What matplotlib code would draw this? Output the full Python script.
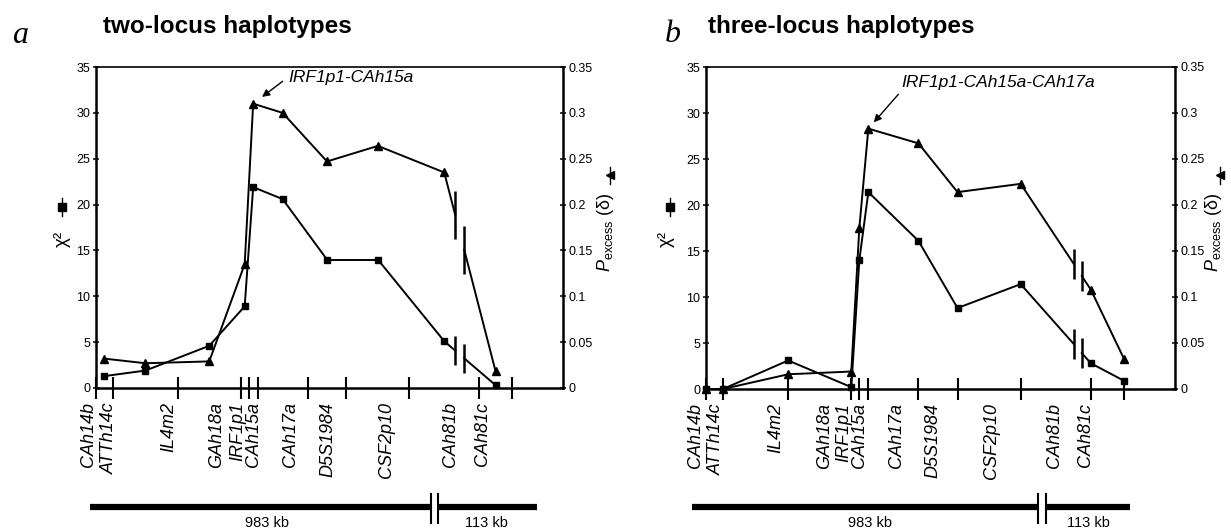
import matplotlib.pyplot as plt
import matplotlib.transforms as mtransforms
from matplotlib.lines import Line2D
import numpy as np

plt.rcParams['font.family'] = ['Liberation Sans', 'DejaVu Sans']
plt.rcParams['mathtext.fontset'] = 'custom'
plt.rcParams['mathtext.rm'] = 'Liberation Sans'
plt.rcParams['mathtext.it'] = 'Liberation Sans:italic'

W, H = 1231, 529

# loci along the map (positions in arbitrary map units)
loci = ['CAh14b', 'ATTh14c', 'IL4m2', 'GAh18a', 'IRF1p1', 'CAh15a',
        'CAh17a', 'D5S1984', 'CSF2p10', 'CAh81b', 'CAh81c']
locus_pos = [0, 17, 82, 145, 153, 162, 212, 251, 314, 384, 417]

# a: two-locus haplotypes, plotted between adjacent loci
chi2_two = [1.3, 1.9, 4.6, 8.9, 21.9, 20.6, 14.0, 14.0, 5.1, 0.3]
pexc_two = [0.032, 0.027, 0.029, 0.135, 0.310, 0.300, 0.247, 0.264, 0.235, 0.018]

# b: three-locus haplotypes, plotted at the loci
chi2_three = [0.0, 0.0, 3.1, 0.2, 14.0, 21.4, 16.1, 8.8, 11.4, 2.8, 0.9]
pexc_three = [0.0, 0.0, 0.016, 0.019, 0.175, 0.283, 0.267, 0.214, 0.223, 0.108, 0.033]

LW = 1.4
NARROW = ['Liberation Sans Narrow', 'Liberation Sans', 'DejaVu Sans']


def fx(px):
    return px / W


def fy(py):
    return 1 - py / H


def draw_series(ax, xs, ys, marker, ms, brk, bar_half):
    xs = np.asarray(xs, float)
    ys = np.asarray(ys, float)
    for i in range(len(xs) - 1):
        x0, x1, y0, y1 = xs[i], xs[i + 1], ys[i], ys[i + 1]
        if x0 < brk[0] and x1 > brk[1]:
            ya = np.interp(brk[0], [x0, x1], [y0, y1])
            yb = np.interp(brk[1], [x0, x1], [y0, y1])
            ax.plot([x0, brk[0]], [y0, ya], color='black', lw=LW)
            ax.plot([brk[1], x1], [yb, y1], color='black', lw=LW)
            for bx, by in ((brk[0], ya), (brk[1], yb)):
                ax.plot([bx, bx], [by - bar_half, by + bar_half], color='black',
                        lw=1.8, solid_capstyle='butt')
        else:
            ax.plot([x0, x1], [y0, y1], color='black', lw=LW)
    ax.plot(xs, ys, ls='none', marker=marker, ms=ms, color='black', clip_on=False)


def panel(rect, chi2, pexc, xs, brk, bar_chi, bar_p, label_x, peak_i, note,
          tail_off, text_off, shrink):
    ax = fig.add_axes(rect)
    ax.set_xlim(0, 468)
    ax.set_ylim(0, 35)
    ax.set_xticks(locus_pos)
    ax.tick_params(axis='x', direction='inout', length=16, width=1.5, labelbottom=False)
    ax.set_yticks(range(0, 36, 5))
    ax.tick_params(axis='y', direction='inout', length=4.5, width=1.1, labelsize=9, pad=2)
    for lab in ax.get_yticklabels():
        lab.set_family(NARROW)
    ax.spines['right'].set_visible(False)
    ax.spines['top'].set_linewidth(1.2)
    ax.spines['left'].set_linewidth(1.8)
    ax.spines['bottom'].set_linewidth(1.8)

    ax2 = ax.twinx()
    ax2.set_ylim(0, 0.35)
    pt = np.round(np.arange(0, 0.351, 0.05), 2)
    ax2.set_yticks(pt)
    ax2.set_yticklabels([f'{v:g}' for v in pt])
    ax2.tick_params(axis='y', direction='inout', length=4.5, width=1.1, labelsize=9, pad=2)
    for lab in ax2.get_yticklabels():
        lab.set_family(NARROW)
    for s in ('left', 'top', 'bottom'):
        ax2.spines[s].set_visible(False)
    ax2.spines['right'].set_linewidth(1.8)

    draw_series(ax, xs, chi2, 's', 5, brk, bar_chi)
    draw_series(ax2, xs, pexc, '^', 5.5, brk, bar_p)

    # locus names under the axis
    trans = mtransforms.offset_copy(ax.get_xaxis_transform(), fig=fig, y=-14, units='dots')
    for name, lx in zip(loci, label_x):
        ax.text(lx, 0, name, transform=trans, rotation=90, ha='center', va='top',
                fontsize=13, style='italic')

    px, py = xs[peak_i], pexc[peak_i]
    ax2.annotate('', xy=(px, py), xytext=tail_off, textcoords='offset points',
                 arrowprops=dict(arrowstyle='-|>', color='black', lw=1,
                                 shrinkA=0, shrinkB=shrink, mutation_scale=11))
    ax2.annotate(note, xy=(px, py), xytext=text_off, textcoords='offset points',
                 ha='left', va='baseline', fontsize=12.5, style='italic')
    return ax


fig = plt.figure(figsize=(W / 100, H / 100), dpi=100)

mid_two = [(a + b) / 2 for a, b in zip(locus_pos[:-1], locus_pos[1:])]
label_x_a = [-8, 13, 73, 121, 142, 158, 195, 232, 291, 355, 387]
label_x_b = [-10, 10, 70, 118, 137, 153, 190, 226, 285, 348, 379]

panel([fx(96), fy(388), (563 - 96) / W, (388 - 67) / H],
      chi2_two, pexc_two, mid_two, (360, 369), 1.6, 0.026, label_x_a,
      int(np.argmax(pexc_two)), 'IRF1p1-CAh15a', (21.2, 16.1), (25.6, 15.3), 8)
panel([fx(706), fy(389), (1175 - 706) / W, (389 - 67) / H],
      chi2_three, pexc_three, locus_pos, (367, 375), 1.6, 0.016, label_x_b,
      int(np.argmax(pexc_three)), 'IRF1p1-CAh15a-CAh17a', (21.6, 24.7), (23.8, 29.7), 6)

# titles and panel letters
fig.text(fx(103), fy(33), 'two-locus haplotypes', fontsize=17.5, fontweight='bold',
         ha='left', va='baseline')
fig.text(fx(708), fy(33), 'three-locus haplotypes', fontsize=17.5, fontweight='bold',
         ha='left', va='baseline')
fig.text(fx(12), fy(43), 'a', family=['Liberation Serif', 'DejaVu Serif'], style='italic',
         fontsize=23, va='baseline')
fig.text(fx(665), fy(42), 'b', family=['Liberation Serif', 'DejaVu Serif'], style='italic',
         fontsize=23, va='baseline')


# axis titles with their series symbols
def ylabel_pair(xc, xm, xp, xpm):
    fig.text(fx(xc), fy(247), 'χ²', rotation=90, ha='center', va='bottom', fontsize=13.5)
    fig.add_artist(Line2D([fx(xm)] * 2, [fy(198), fy(216)], transform=fig.transFigure,
                          color='black', lw=1))
    fig.add_artist(Line2D([fx(xm)], [fy(207)], transform=fig.transFigure,
                          marker='s', ms=5.5, color='black', ls='none'))
    fig.text(fx(xp), fy(272), r'$P_{\mathrm{excess}}$ (δ)', rotation=90, ha='center',
             va='bottom', fontsize=13)
    fig.add_artist(Line2D([fx(xpm)] * 2, [fy(167), fy(184)], transform=fig.transFigure,
                          color='black', lw=1))
    fig.add_artist(Line2D([fx(xpm)], [fy(175)], transform=fig.transFigure,
                          marker='<', ms=6, color='black', ls='none'))


ylabel_pair(62, 62, 605, 610)
ylabel_pair(666, 670, 1214, 1220)


# physical map scale bars
def scale_bar(x0, xb0, xb1, x1, t1x, t2x):
    for a, b in ((x0, xb0), (xb1, x1)):
        fig.add_artist(Line2D([fx(a), fx(b)], [fy(507)] * 2, transform=fig.transFigure,
                              color='black', lw=4.5, solid_capstyle='butt'))
    for bx in (xb0, xb1):
        fig.add_artist(Line2D([fx(bx)] * 2, [fy(494), fy(523)], transform=fig.transFigure,
                              color='black', lw=1.5))
    fig.text(fx(t1x), fy(516), '983 kb', ha='center', va='top', fontsize=10.5)
    fig.text(fx(t2x), fy(516), '113 kb', ha='center', va='top', fontsize=10.5)


scale_bar(90, 431, 438, 537, 267, 486)
scale_bar(692, 1038, 1046, 1130, 870, 1088)

fig.savefig('out.png', dpi=100, facecolor='white')
